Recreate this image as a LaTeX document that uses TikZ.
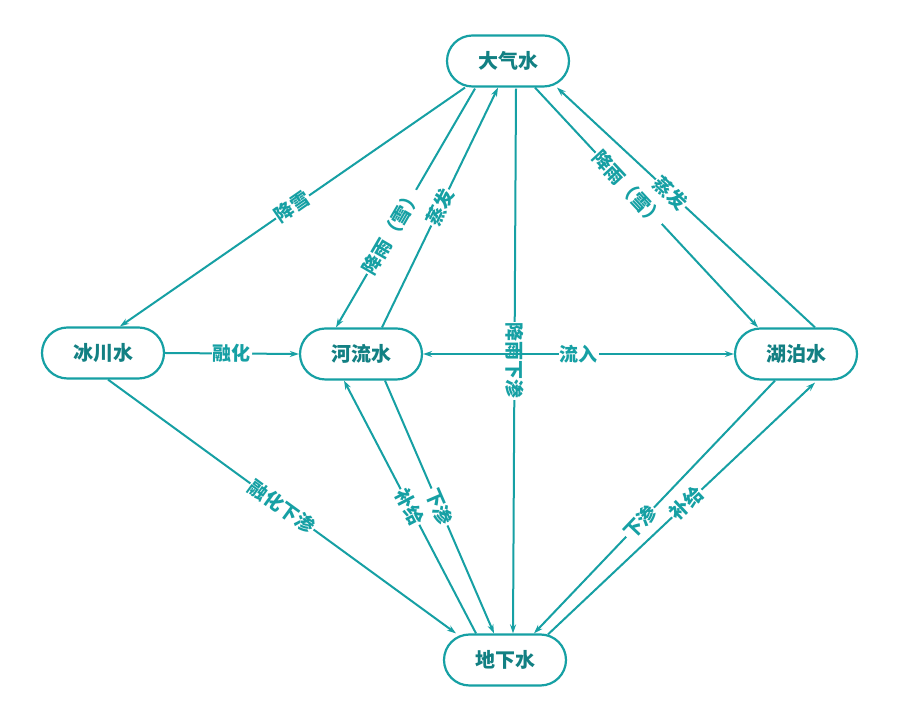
\documentclass[tikz,border=0pt]{standalone}
\usepackage{fontspec}
\setmainfont{Noto Sans CJK SC}
\usetikzlibrary{shapes.misc,arrows.meta,calc}
\definecolor{tl}{RGB}{22,160,164}
\begin{document}
\begin{tikzpicture}[x=1pt,y=1pt,
  box/.style={draw=tl,line width=2.2pt,rounded rectangle,minimum width=122pt,minimum height=51pt,font=\fontsize{20}{22}\selectfont\bfseries,text=tl!80!black,inner sep=0pt},
  ar/.style={draw=tl,line width=2pt,-{Stealth[length=9pt,width=6pt]}},
  lb/.style={fill=white,sloped,font=\fontsize{19}{21}\selectfont\bfseries,text=tl,inner sep=1pt}]
\useasboundingbox[fill=white] (0,0) rectangle (900,722);
\node[box] (atm) at (508,661) {大气水};
\node[box] (gla) at (103,369) {冰川水};
\node[box] (riv) at (361,368) {河流水};
\node[box] (lak) at (796,368) {湖泊水};
\node[box] (gnd) at (505,62) {地下水};
% atmosphere
\draw[ar] ($(atm.south)+(-43,0)$) -- node[lb,pos=0.5]{降雪} ($(gla.north)+(17,0)$);
\draw[ar] ($(atm.south)+(-33,-1)$) -- node[lb,pos=0.6]{降雨（雪）} ($(riv.north)+(-25,0)$);
\draw[ar] ($(riv.north)+(21,0)$) -- node[lb,pos=0.5]{蒸发} ($(atm.south)+(-10,0)$);
\draw[ar] ($(atm.south)+(8,-1)$) -- node[fill=white,rotate=-90,font=\fontsize{19}{21}\selectfont\bfseries,text=tl,inner sep=1pt,pos=0.5]{降雨下渗} ($(gnd.north)+(8,0)$);
\draw[ar] ($(atm.south)+(27,0)$) -- node[lb,pos=0.42]{降雨（雪）} ($(lak.north)+(-38,0)$);
\draw[ar] ($(lak.north)+(19,0)$) -- node[lb,pos=0.56]{蒸发} ($(atm.south)+(49,0)$);
% middle row
\draw[ar] (gla.east) -- node[lb]{融化} (riv.west);
\draw[draw=tl,line width=2pt,{Stealth[length=9pt,width=6pt]}-{Stealth[length=9pt,width=6pt]}] (riv.east) -- node[lb,pos=0.5]{流入} (lak.west);
% to ground
\draw[ar] ($(gla.south)+(5,0)$) -- node[lb,pos=0.5]{融化下渗} ($(gnd.north)+(-49,0)$);
\draw[ar] ($(riv.south)+(24,0)$) -- node[lb,pos=0.5]{下渗} ($(gnd.north)+(-11,0)$);
\draw[ar] ($(gnd.north)+(-29,0)$) -- node[lb,pos=0.5]{补给} ($(riv.south)+(-17,0)$);
\draw[ar] ($(lak.south)+(-21,0)$) -- node[lb,pos=0.56]{下渗} ($(gnd.north)+(29,0)$);
\draw[ar] ($(gnd.north)+(43,-1)$) -- node[lb,pos=0.52]{补给} ($(lak.south)+(19,-2)$);
\end{tikzpicture}
\end{document}
